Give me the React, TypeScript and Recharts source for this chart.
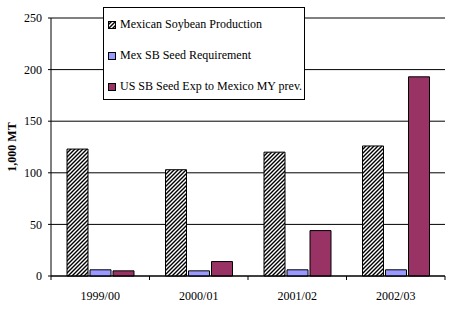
import {
  BarChart,
  Bar,
  XAxis,
  YAxis,
  CartesianGrid,
  ReferenceLine,
  Legend,
  Label,
} from "recharts";

const years = ["1999/00", "2000/01", "2001/02", "2002/03"];
const production = [123, 103, 120, 126];
const seedRequirement = [6, 5, 6, 6];
const usSeedExports = [5, 14, 44, 193];
const yTicks = [0, 50, 100, 150, 200, 250];

const series = [
  { key: "production", name: "Mexican Soybean Production", fill: "url(#hatch)" },
  { key: "requirement", name: "Mex SB Seed Requirement", fill: "#9999ff" },
  { key: "exports", name: "US SB Seed Exp to Mexico MY prev.", fill: "#993366" },
];

const data = years.map((year, i) => ({
  year,
  production: production[i],
  requirement: seedRequirement[i],
  exports: usSeedExports[i],
}));

const font = "Liberation Serif, Times New Roman, serif";
const labelGap = 15;

const LegendBox = () => (
  <div
    style={{
      width: 202,
      height: 93,
      boxSizing: "border-box",
      border: "1px solid #000",
      background: "#fff",
      paddingLeft: 4,
      paddingTop: 1,
      fontFamily: font,
      fontSize: 12,
      color: "#000",
    }}
  >
    {series.map((s) => (
      <div key={s.key} style={{ height: 31, display: "flex", alignItems: "center" }}>
        <svg width={8} height={8} style={{ marginRight: 4 }}>
          <rect x={0.5} y={0.5} width={7} height={7} fill={s.fill} stroke="#000" />
        </svg>
        <span style={{ whiteSpace: "nowrap" }}>{s.name}</span>
      </div>
    ))}
  </div>
);

// category label plus tick marks at the category boundaries
const YearTick = (props: any) => {
  const { x, y, payload, index, visibleTicksCount, width } = props;
  const band = width / visibleTicksCount;
  const axisY = y - labelGap;
  const left = x - band / 2;
  const right = x + band / 2;
  return (
    <g>
      <line x1={left} y1={axisY} x2={left} y2={axisY + 4} stroke="#000" />
      {index === visibleTicksCount - 1 && (
        <line x1={right} y1={axisY} x2={right} y2={axisY + 4} stroke="#000" />
      )}
      <text x={x} y={y} dy="0.71em" textAnchor="middle" fontFamily={font} fontSize={12} fill="#000">
        {payload.value}
      </text>
    </g>
  );
};

export default function App() {
  return (
    <div style={{ position: "absolute", left: 0, top: 0, fontFamily: font }}>
      <svg width={0} height={0} style={{ position: "absolute" }}>
        <defs>
          <pattern id="hatch" patternUnits="userSpaceOnUse" width={4} height={4}>
            <rect width={4} height={4} fill="#fff" />
            <path d="M-1,1 l2,-2 M0,4 l4,-4 M3,5 l2,-2" stroke="#000" strokeWidth={1.4} />
          </pattern>
        </defs>
      </svg>
      <BarChart
        width={456}
        height={312}
        data={data}
        margin={{ top: 18, right: 11, left: 0, bottom: 0 }}
        barSize={21}
        barGap={2}
      >
        <CartesianGrid vertical={false} stroke="#000" />
        <XAxis
          dataKey="year"
          height={36}
          tickLine={false}
          tickSize={0}
          tickMargin={labelGap}
          interval={0}
          axisLine={{ stroke: "#000" }}
          tick={<YearTick />}
        />
        <YAxis
          width={51}
          domain={[0, 250]}
          ticks={yTicks}
          tickSize={3}
          tickMargin={6}
          axisLine={{ stroke: "#000" }}
          tickLine={{ stroke: "#000" }}
          tick={{ fill: "#000", fontSize: 12, fontFamily: font }}
        >
          <Label
            content={({ viewBox }: any) => (
              <text
                x={12}
                y={viewBox.y + viewBox.height / 2}
                transform={`rotate(-90 12 ${viewBox.y + viewBox.height / 2})`}
                textAnchor="middle"
                dominantBaseline="central"
                fontFamily={font}
                fontSize={12}
                fontWeight="bold"
                fill="#000"
              >
                1,000 MT
              </text>
            )}
          />
        </YAxis>
        <YAxis
          yAxisId="border"
          orientation="right"
          width={0}
          domain={[0, 250]}
          tick={false}
          tickLine={false}
          axisLine={{ stroke: "#808080" }}
        />
        <ReferenceLine y={250} stroke="#808080" />
        <Legend
          layout="vertical"
          align="center"
          verticalAlign="middle"
          wrapperStyle={{ left: 103, top: 7, width: 202, height: 93 }}
          content={() => <LegendBox />}
        />
        {series.map((s) => (
          <Bar
            key={s.key}
            dataKey={s.key}
            name={s.name}
            fill={s.fill}
            stroke="#000"
            strokeWidth={1}
            isAnimationActive={false}
          />
        ))}
      </BarChart>
    </div>
  );
}
